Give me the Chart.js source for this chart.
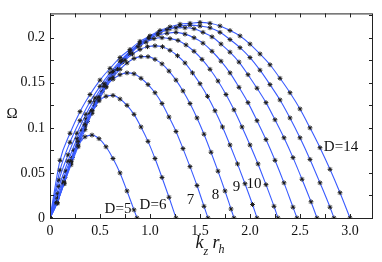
<!DOCTYPE html>
<html>
<head>
<meta charset="utf-8">
<script src="https://cdn.jsdelivr.net/npm/chart.js@4.4.1/dist/chart.umd.min.js"></script>
<style>
  html, body { margin: 0; padding: 0; background: #fff; }
  #wrap { width: 382px; height: 262px; }
</style>
</head>
<body>
<div id="wrap"><canvas id="chart"></canvas></div>
<script>
// Omega vs kz*rh, one curve per D
const dValues = [5, 6, 7, 8, 9, 10, 11, 12, 13, 14];

const kzD5 = [0, 0.07, 0.14, 0.21, 0.28, 0.35, 0.42, 0.49, 0.56, 0.63, 0.70, 0.77, 0.84, 0.87];
const omegaD5 = [0, 0.017, 0.040, 0.063, 0.080, 0.090, 0.092, 0.088, 0.079, 0.066, 0.050, 0.030, 0.009, 0];

const kzD6 = [0, 0.07, 0.14, 0.21, 0.28, 0.35, 0.42, 0.49, 0.56, 0.63, 0.70, 0.77, 0.84, 0.91, 0.98, 1.05, 1.12, 1.19, 1.26];
const omegaD6 = [0, 0.016, 0.039, 0.063, 0.085, 0.104, 0.119, 0.130, 0.135, 0.136, 0.132, 0.125, 0.115, 0.101, 0.085, 0.066, 0.045, 0.023, 0];

const kzD7 = [0, 0.07, 0.14, 0.21, 0.28, 0.35, 0.42, 0.49, 0.56, 0.63, 0.70, 0.77, 0.84, 0.91, 0.98, 1.05, 1.12, 1.19, 1.26, 1.33, 1.40, 1.47, 1.54, 1.58];
const omegaD7 = [0, 0.017, 0.038, 0.061, 0.082, 0.102, 0.119, 0.134, 0.146, 0.154, 0.159, 0.161, 0.160, 0.155, 0.148, 0.139, 0.127, 0.112, 0.096, 0.077, 0.057, 0.036, 0.013, 0];

const kzD8 = [0, 0.07, 0.14, 0.21, 0.28, 0.35, 0.42, 0.49, 0.56, 0.63, 0.70, 0.77, 0.84, 0.91, 0.98, 1.05, 1.12, 1.19, 1.26, 1.33, 1.40, 1.47, 1.54, 1.61, 1.68, 1.75, 1.81, 1.84];
const omegaD8 = [0, 0.017, 0.038, 0.059, 0.079, 0.098, 0.116, 0.131, 0.145, 0.156, 0.165, 0.172, 0.177, 0.179, 0.179, 0.176, 0.171, 0.163, 0.153, 0.141, 0.127, 0.111, 0.093, 0.073, 0.052, 0.030, 0.010, 0];

const kzD9 = [0, 0.075, 0.15, 0.225, 0.30, 0.375, 0.45, 0.525, 0.60, 0.675, 0.75, 0.825, 0.90, 0.975, 1.05, 1.125, 1.20, 1.275, 1.35, 1.425, 1.50, 1.575, 1.65, 1.725, 1.80, 1.875, 1.95, 2.025, 2.07];
const omegaD9 = [0, 0.022, 0.045, 0.067, 0.088, 0.107, 0.125, 0.140, 0.154, 0.165, 0.175, 0.182, 0.187, 0.190, 0.191, 0.190, 0.186, 0.180, 0.172, 0.161, 0.149, 0.135, 0.119, 0.101, 0.081, 0.060, 0.038, 0.015, 0];

const kzD10 = [0, 0.08, 0.16, 0.24, 0.32, 0.40, 0.48, 0.56, 0.64, 0.72, 0.80, 0.88, 0.96, 1.04, 1.12, 1.20, 1.28, 1.36, 1.44, 1.52, 1.60, 1.68, 1.76, 1.84, 1.92, 2.00, 2.08, 2.16, 2.24, 2.28];
const omegaD10 = [0, 0.027, 0.052, 0.075, 0.097, 0.116, 0.133, 0.148, 0.162, 0.173, 0.182, 0.190, 0.195, 0.199, 0.200, 0.199, 0.197, 0.192, 0.185, 0.176, 0.165, 0.152, 0.137, 0.120, 0.101, 0.081, 0.060, 0.037, 0.013, 0];

const kzD11 = [0, 0.09, 0.18, 0.27, 0.36, 0.45, 0.54, 0.63, 0.72, 0.81, 0.90, 0.99, 1.08, 1.17, 1.26, 1.35, 1.44, 1.53, 1.62, 1.71, 1.80, 1.89, 1.98, 2.07, 2.16, 2.25, 2.34, 2.43, 2.47];
const omegaD11 = [0, 0.035, 0.063, 0.088, 0.110, 0.129, 0.146, 0.161, 0.173, 0.184, 0.192, 0.199, 0.203, 0.205, 0.206, 0.204, 0.200, 0.194, 0.185, 0.174, 0.161, 0.145, 0.128, 0.108, 0.087, 0.064, 0.039, 0.012, 0];

const kzD12 = [0, 0.09, 0.18, 0.27, 0.36, 0.45, 0.54, 0.63, 0.72, 0.81, 0.90, 0.99, 1.08, 1.17, 1.26, 1.35, 1.44, 1.53, 1.62, 1.71, 1.80, 1.89, 1.98, 2.07, 2.16, 2.25, 2.34, 2.43, 2.52, 2.61, 2.67];
const omegaD12 = [0, 0.042, 0.070, 0.094, 0.115, 0.133, 0.149, 0.163, 0.175, 0.185, 0.193, 0.200, 0.205, 0.209, 0.211, 0.211, 0.210, 0.206, 0.201, 0.193, 0.184, 0.173, 0.159, 0.144, 0.128, 0.109, 0.089, 0.067, 0.043, 0.018, 0];

const kzD13 = [0, 0.1, 0.2, 0.3, 0.4, 0.5, 0.6, 0.7, 0.8, 0.9, 1.0, 1.1, 1.2, 1.3, 1.4, 1.5, 1.6, 1.7, 1.8, 1.9, 2.0, 2.1, 2.2, 2.3, 2.4, 2.5, 2.6, 2.7, 2.8, 2.84];
const omegaD13 = [0, 0.053, 0.084, 0.108, 0.129, 0.146, 0.161, 0.174, 0.185, 0.194, 0.201, 0.206, 0.210, 0.213, 0.214, 0.213, 0.211, 0.206, 0.198, 0.189, 0.178, 0.164, 0.148, 0.131, 0.111, 0.089, 0.065, 0.039, 0.012, 0];

const kzD14 = [0, 0.1, 0.2, 0.3, 0.4, 0.5, 0.6, 0.7, 0.8, 0.9, 1.0, 1.1, 1.2, 1.3, 1.4, 1.5, 1.6, 1.7, 1.8, 1.9, 2.0, 2.1, 2.2, 2.3, 2.4, 2.5, 2.6, 2.7, 2.8, 2.9, 3.0];
const omegaD14 = [0, 0.064, 0.094, 0.118, 0.137, 0.153, 0.166, 0.178, 0.187, 0.196, 0.202, 0.208, 0.212, 0.215, 0.216, 0.217, 0.216, 0.213, 0.208, 0.202, 0.193, 0.182, 0.170, 0.155, 0.139, 0.121, 0.100, 0.078, 0.054, 0.028, 0];

const xTicks = [0, 0.5, 1, 1.5, 2, 2.5, 3];
const xTickText = ['0', '0.5', '1.0', '1.5', '2.0', '2.5', '3.0'];
const yTicks = [0, 0.05, 0.1, 0.15, 0.2];
const yTickText = ['0', '0.05', '0.1', '0.15', '0.2'];
const curveText = ['D=5', 'D=6', '7', '8', '9', '10', 'D=14'];

const kzByD = [kzD5, kzD6, kzD7, kzD8, kzD9, kzD10, kzD11, kzD12, kzD13, kzD14];
const omegaByD = [omegaD5, omegaD6, omegaD7, omegaD8, omegaD9, omegaD10, omegaD11, omegaD12, omegaD13, omegaD14];

// where each curve label sits (data coords, text centre)
const curveTextAt = [[0.68, 0.010], [1.03, 0.014], [1.405, 0.020], [1.655, 0.025], [1.865, 0.034], [2.04, 0.038], [2.91, 0.079]];

const SERIF = '"Liberation Serif", "DejaVu Serif", serif';

function tickLabel(v, ticks, text) {
    const i = ticks.findIndex(t => Math.abs(t - v) < 1e-6);
    return i >= 0 ? text[i] : '';
}

const framePlugin = {
    id: 'frame',
    afterDatasetsDraw(chart) {
        const { ctx, chartArea: a, scales: { x, y } } = chart;
        ctx.save();
        ctx.strokeStyle = '#222';
        ctx.lineWidth = 1;
        ctx.strokeRect(a.left + 0.5, a.top + 0.5, a.right - a.left - 1, a.bottom - a.top);

        // inward ticks on all four sides
        const len = 4;
        ctx.beginPath();
        x.ticks.forEach(t => {
            const px = Math.round(x.getPixelForValue(t.value)) + 0.5;
            ctx.moveTo(px, a.bottom); ctx.lineTo(px, a.bottom - len);
            ctx.moveTo(px, a.top); ctx.lineTo(px, a.top + len);
        });
        y.ticks.forEach(t => {
            const py = Math.round(y.getPixelForValue(t.value)) + 0.5;
            ctx.moveTo(a.left, py); ctx.lineTo(a.left + len, py);
            ctx.moveTo(a.right, py); ctx.lineTo(a.right - len, py);
        });
        ctx.stroke();

        // curve labels
        ctx.fillStyle = '#111';
        ctx.font = '15px ' + SERIF;
        ctx.textAlign = 'center';
        ctx.textBaseline = 'middle';
        curveText.forEach((s, i) => {
            const [kx, oy] = curveTextAt[i];
            ctx.fillText(s, x.getPixelForValue(kx), y.getPixelForValue(oy));
        });

        // y title (Omega)
        ctx.font = '15px ' + SERIF;
        ctx.fillText('Ω', 12, (a.top + a.bottom) / 2 - 2);

        // x title: k_z r_h
        ctx.textAlign = 'left';
        ctx.textBaseline = 'alphabetic';
        const cx = (a.left + a.right) / 2 - 16;
        ctx.font = 'italic 18px ' + SERIF;
        ctx.fillText('k', cx, 248);
        ctx.font = 'italic 12px ' + SERIF;
        ctx.fillText('z', cx + 8, 255);
        ctx.font = 'italic 18px ' + SERIF;
        ctx.fillText('r', cx + 17, 248);
        ctx.font = 'italic 12px ' + SERIF;
        ctx.fillText('h', cx + 23, 253);
        ctx.restore();
    }
};

const datasets = dValues.map((d, i) => ({
    label: 'D=' + d,
    data: kzByD[i].map((k, j) => ({ x: k, y: omegaByD[i][j] })),
    borderColor: '#3a5cff',
    borderWidth: 1.1,
    cubicInterpolationMode: 'monotone',
    fill: false,
    pointStyle: 'star',
    pointRadius: 2.4,
    pointBorderColor: '#1c1c1c',
    pointBackgroundColor: '#1c1c1c',
    pointBorderWidth: 1
}));

new Chart(document.getElementById('chart'), {
    type: 'line',
    data: { datasets },
    options: {
        responsive: true,
        maintainAspectRatio: false,
        animation: false,
        layout: { padding: { top: 9, right: 9, left: 0, bottom: 0 } },
        plugins: { legend: { display: false }, tooltip: { enabled: false } },
        scales: {
            x: {
                type: 'linear',
                min: 0,
                max: 3.23,
                afterBuildTicks: s => {
                    s.ticks = [];
                    for (let v = 0; v <= 3.0001; v += 0.25) s.ticks.push({ value: +v.toFixed(2) });
                },
                afterFit: s => { s.height = 44; },
                grid: { display: false, drawTicks: false },
                border: { display: false },
                ticks: {
                    autoSkip: false,
                    maxRotation: 0,
                    padding: 5,
                    color: '#111',
                    font: { family: SERIF, size: 14 },
                    callback: v => tickLabel(v, xTicks, xTickText)
                }
            },
            y: {
                type: 'linear',
                min: 0,
                max: 0.227,
                afterBuildTicks: s => {
                    s.ticks = [];
                    for (let v = 0; v <= 0.2251; v += 0.025) s.ticks.push({ value: +v.toFixed(3) });
                },
                afterFit: s => { s.width = 50; },
                grid: { display: false, drawTicks: false },
                border: { display: false },
                ticks: {
                    autoSkip: false,
                    padding: 5,
                    color: '#111',
                    font: { family: SERIF, size: 14 },
                    callback: v => tickLabel(v, yTicks, yTickText)
                }
            }
        }
    },
    plugins: [framePlugin]
});
</script>
</body>
</html>
